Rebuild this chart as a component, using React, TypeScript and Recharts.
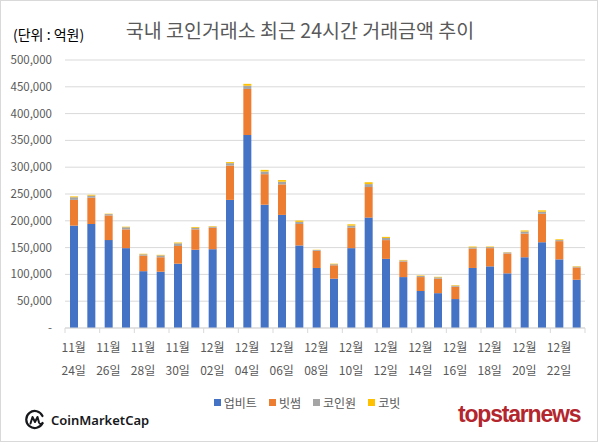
import React from 'react'
import { BarChart, Bar, XAxis, YAxis, CartesianGrid } from 'recharts'

// 단위: 억원
const dates = [
  '11월 24일', '11월 25일', '11월 26일', '11월 27일', '11월 28일', '11월 29일', '11월 30일',
  '12월 01일', '12월 02일', '12월 03일', '12월 04일', '12월 05일', '12월 06일', '12월 07일',
  '12월 08일', '12월 09일', '12월 10일', '12월 11일', '12월 12일', '12월 13일', '12월 14일',
  '12월 15일', '12월 16일', '12월 17일', '12월 18일', '12월 19일', '12월 20일', '12월 21일',
  '12월 22일', '12월 23일',
]
const upbit = [
  191000, 194000, 164000, 149000, 106000, 105000, 120000, 146000, 147000, 239000,
  360000, 230000, 211000, 154000, 112000, 92000, 149000, 206000, 129000, 95000,
  69000, 65000, 54000, 112000, 115000, 102000, 132000, 160000, 128000, 90000,
]
const bithumb = [
  48000, 49000, 46000, 35000, 29000, 27000, 33000, 38000, 40000, 64000,
  86000, 57000, 57000, 40000, 32000, 25000, 38000, 57000, 35000, 29000,
  26000, 27000, 23000, 36000, 34000, 37000, 44000, 53000, 34000, 23000,
]
const coinone = [
  5000, 4000, 2500, 4000, 2500, 3500, 5000, 3000, 2000, 4500,
  6000, 5000, 5000, 4000, 1500, 2000, 4000, 5500, 4000, 2000,
  2000, 2500, 2000, 2500, 2000, 2000, 4000, 4000, 2000, 1500,
]
const korbit = [
  1500, 1500, 800, 1000, 1000, 1000, 1500, 1500, 1000, 2000,
  3500, 3000, 3000, 2500, 500, 1000, 2500, 3500, 2000, 1000,
  1000, 1000, 1000, 1500, 1000, 500, 2000, 2500, 1500, 800,
]
const yTicks = [0, 50000, 100000, 150000, 200000, 250000, 300000, 350000, 400000, 450000, 500000]

const series = [
  { key: 'upbit', name: '업비트', color: '#4472C4' },
  { key: 'bithumb', name: '빗썸', color: '#ED7D31' },
  { key: 'coinone', name: '코인원', color: '#A5A5A5' },
  { key: 'korbit', name: '코빗', color: '#FFC000' },
]

const data = dates.map((date, i) => ({
  date,
  upbit: upbit[i],
  bithumb: bithumb[i],
  coinone: coinone[i],
  korbit: korbit[i],
}))

const W = 600
const H = 445
const LEFT = 65
const RIGHT = 15
const STEP = (W - LEFT - RIGHT) / dates.length
const FONT = "'Noto Sans CJK KR', 'Noto Sans', sans-serif"
const AXIS_GRAY = '#d9d9d9'
const TEXT_GRAY = '#595959'

function DateTick(props: any) {
  const { x, y, payload } = props
  const [month, day] = String(payload.value).split(' ')
  const isLast = dates.indexOf(payload.value) === dates.length - 2
  return (
    <g>
      <line x1={x - STEP / 2} x2={x - STEP / 2} y1={y} y2={y + 5} stroke={AXIS_GRAY} />
      {isLast && <line x1={x + STEP * 1.5} x2={x + STEP * 1.5} y1={y} y2={y + 5} stroke={AXIS_GRAY} />}
      <text x={x} y={y + 24} textAnchor="middle" fontSize={12} fill={TEXT_GRAY} fontFamily={FONT}>{month}</text>
      <text x={x} y={y + 47} textAnchor="middle" fontSize={12} fill={TEXT_GRAY} fontFamily={FONT}>{day}</text>
    </g>
  )
}

function LegendBox() {
  return (
    <div style={{ position: 'absolute', left: 0, top: 394, width: W, display: 'flex', justifyContent: 'center', gap: 12, paddingLeft: 14, boxSizing: 'border-box', fontFamily: FONT, fontSize: 12, color: TEXT_GRAY }}>
      {series.map(s => (
        <span key={s.key} style={{ display: 'flex', alignItems: 'center' }}>
          <span style={{ width: 7, height: 7, background: s.color, marginRight: 3, display: 'inline-block' }} />
          {s.name}
        </span>
      ))}
    </div>
  )
}

function CmcLogo() {
  return (
    <div style={{ position: 'absolute', left: 25, top: 409, display: 'flex', alignItems: 'center', fontFamily: "'Noto Sans', sans-serif", fontWeight: 600, fontSize: 13, color: '#17181b' }}>
      <svg width={20} height={22} viewBox="0 0 20 22" style={{ marginRight: 6 }}>
        <path d="M17.5 14 A8.5 8.5 0 1 1 17.5 7" fill="none" stroke="#17181b" strokeWidth={2.2} strokeLinecap="round" />
        <path d="M5.5 14.5 L7.5 8 L10 13 L12.5 8 L14 13.5 Q15 16 17.5 14.5" fill="none" stroke="#17181b" strokeWidth={2} strokeLinejoin="round" strokeLinecap="round" />
      </svg>
      CoinMarketCap
    </div>
  )
}

export default function App() {
  return (
    <div style={{ position: 'absolute', left: 0, top: 0, width: W, height: H, background: '#fff' }}>
      <div style={{ position: 'absolute', left: 0, top: 0, width: 598, height: 442, border: `1px solid ${AXIS_GRAY}`, boxSizing: 'border-box' }} />
      <div style={{ position: 'absolute', left: 13, top: 24, fontFamily: FONT, fontSize: 14, color: '#000' }}>(단위 : 억원)</div>
      <div style={{ position: 'absolute', left: 0, width: W, top: 15, textAlign: 'center', fontFamily: FONT, fontSize: 19.5, color: TEXT_GRAY }}>
        국내 코인거래소 최근 24시간 거래금액 추이
      </div>
      <div style={{ position: 'absolute', left: 0, top: 0 }}>
        <BarChart width={W} height={H} data={data} margin={{ top: 60, right: RIGHT, bottom: 87, left: 0 }} barSize={8}>
          <CartesianGrid vertical={false} stroke={AXIS_GRAY} />
          <XAxis
            dataKey="date"
            height={30}
            interval={1}
            tickLine={false}
            tickSize={0}
            tickMargin={0}
            axisLine={{ stroke: AXIS_GRAY }}
            tick={<DateTick />}
          />
          <YAxis
            width={LEFT}
            domain={[0, 500000]}
            ticks={yTicks}
            axisLine={false}
            tickLine={false}
            tickMargin={7}
            tick={{ fontSize: 11.5, fill: TEXT_GRAY, fontFamily: FONT }}
            tickFormatter={(v: number) => (v === 0 ? '-' : v.toLocaleString('en-US'))}
          />
          {series.map(s => (
            <Bar key={s.key} dataKey={s.key} name={s.name} stackId="a" fill={s.color} isAnimationActive={false} />
          ))}
        </BarChart>
      </div>
      <LegendBox />
      <CmcLogo />
      <div style={{ position: 'absolute', left: 458, top: 401, fontFamily: "'Liberation Sans', Arial, sans-serif", fontWeight: 700, fontSize: 23, letterSpacing: -1.2, color: '#b3262d' }}>
        topstarnews
      </div>
    </div>
  )
}
